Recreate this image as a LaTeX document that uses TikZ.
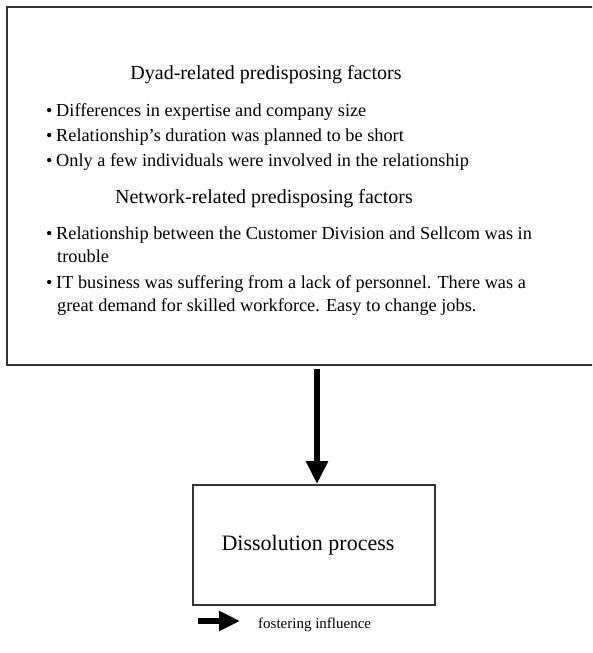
\documentclass[tikz,border=0pt]{standalone}
\usepackage{fontspec}
\setmainfont{Liberation Serif}
\usetikzlibrary{arrows.meta}

\tikzset{
  frame/.style={draw=black!80, line width=1.6pt, inner sep=0pt},
  heading/.style={anchor=base, font=\fontsize{20}{24}\selectfont, inner sep=0pt},
  item/.style={anchor=base west, font=\fontsize{18.3}{22}\selectfont, inner sep=0pt},
  dot/.style={anchor=base west, font=\fontsize{18}{22}\selectfont, inner sep=0pt},
  influence/.style={line width=6.5pt, -{Triangle[length=23pt,width=21pt]}},
  keyarrow/.style={line width=6pt, -{Triangle[length=21pt,width=19pt]}},
}

\begin{document}
\begin{tikzpicture}[x=1pt, y=-1pt]
  \useasboundingbox (0,0) rectangle (592,653);
  \clip (0,0) rectangle (592,653);

  % upper box: predisposing factors (runs past the right edge)
  \node[frame, minimum width=600pt, minimum height=358pt, anchor=north west]
    (factors) at (6,6) {};

  \node[heading] (dyadhead) at (266,79) {Dyad-related predisposing factors};
  \node[dot] (b1) at (46,116) {•};
  \node[item] (d1) at (56,116) {Differences in expertise and company size};
  \node[dot] (b2) at (46,141) {•};
  \node[item] (d2) at (56,141) {Relationship’s duration was planned to be short};
  \node[dot] (b3) at (46,166) {•};
  \node[item] (d3) at (56,166) {Only a few individuals were involved in the relationship};

  \node[heading] (nethead) at (264,203) {Network-related predisposing factors};
  \node[dot] (b4) at (46,239) {•};
  \node[item] (n1) at (56,239) {Relationship between the Customer Division and Sellcom was in};
  \node[item] (n1b) at (57,262) {trouble};
  \node[dot] (b5) at (46,288) {•};
  \node[item] (n2) at (56,288) {IT business was suffering from a lack of personnel. There was a};
  \node[item] (n2b) at (57,311) {great demand for skilled workforce. Easy to change jobs.};

  % lower box: outcome
  \node[frame, minimum width=242pt, minimum height=120pt, anchor=north west]
    (dissolution) at (192,484) {};
  \node[anchor=base, font=\fontsize{22}{26}\selectfont, inner sep=0pt]
    (dislabel) at (308,550) {Dissolution process};

  % fostering influence between the two boxes
  \draw[influence, shorten <=3pt] (factors.south -| 317,0) -- (dissolution.north -| 317,0);

  % legend
  \coordinate (keystart) at (198,621);
  \coordinate (keyend) at (240,621);
  \draw[keyarrow] (keystart) -- (keyend);
  \node[anchor=base west, font=\fontsize{15}{18}\selectfont, inner sep=0pt]
    (keylabel) at (258,628) {fostering influence};
\end{tikzpicture}
\end{document}
